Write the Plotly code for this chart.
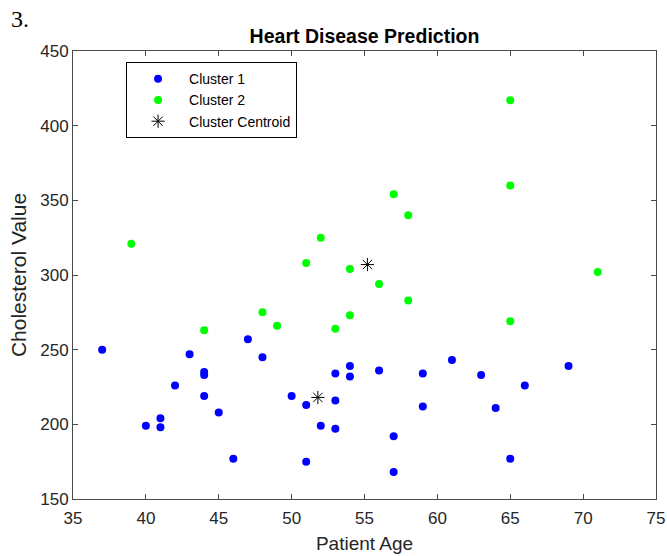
import plotly.graph_objects as go

# Cluster 1 (blue)
c1_age = [37, 43, 47, 48, 44, 44, 42, 44, 50, 51, 53, 53, 54, 54, 45, 41, 41,
          40, 52, 53, 46, 51, 56, 59, 59, 61, 63, 64, 66, 69, 57, 57, 65]
c1_chol = [250, 247, 257, 245, 235, 233, 226, 219, 219, 213, 234, 216, 239, 232, 208, 204, 198,
           199, 199, 197, 177, 175, 236, 234, 212, 243, 233, 211, 226, 239, 192, 168, 177]

# Cluster 2 (green)
c2_age = [39, 44, 48, 49, 51, 52, 54, 54, 53, 65, 65, 57, 58, 56, 58, 71, 65]
c2_chol = [321, 263, 275, 266, 308, 325, 304, 273, 264, 417, 360, 354, 340, 294, 283, 302, 269]

# Cluster centroids
cent_age = [51.8, 55.2]
cent_chol = [218, 307]

x_ticks = [35, 40, 45, 50, 55, 60, 65, 70, 75]
y_ticks = [150, 200, 250, 300, 350, 400, 450]

FONT = "Liberation Sans, Arial, sans-serif"

fig = go.Figure()
fig.add_trace(go.Scatter(x=c1_age, y=c1_chol, mode="markers", name="Cluster 1",
                         marker=dict(color="#0000FF", size=8)))
fig.add_trace(go.Scatter(x=c2_age, y=c2_chol, mode="markers", name="Cluster 2",
                         marker=dict(color="#00FF00", size=8)))
fig.add_trace(go.Scatter(x=cent_age, y=cent_chol, mode="markers", name="Cluster Centroid",
                         marker=dict(symbol="asterisk-open", size=11, color="black",
                                     line=dict(color="black", width=1))))

axis_common = dict(showline=True, linecolor="#4a4a4a", linewidth=1, mirror="ticks",
                   ticks="inside", ticklen=5, tickcolor="#4a4a4a", showgrid=False,
                   zeroline=False, automargin=False,
                   tickfont=dict(family=FONT, size=17, color="#262626"))

fig.update_layout(
    width=667, height=556,
    margin=dict(l=73, r=11, t=51, b=57),
    paper_bgcolor="white", plot_bgcolor="white",
    font=dict(family=FONT, color="#262626"),
    title=dict(text="<b>Heart Disease Prediction</b>", x=0.5, xref="paper",
               y=(556 - 36) / 556, yref="container", yanchor="middle",
               font=dict(family=FONT, size=19.5, color="black")),
    xaxis=dict(range=[35, 75], tickvals=x_ticks, ticklabelstandoff=4,
               title=dict(text="Patient Age", font=dict(family=FONT, size=19, color="#262626"), standoff=9),
               **axis_common),
    yaxis=dict(range=[150, 450], tickvals=y_ticks,
               title=dict(text="Cholesterol Value", font=dict(family=FONT, size=21, color="#262626"), standoff=7),
               **axis_common),
    legend=dict(x=0.091, y=0.975, xanchor="left", yanchor="top",
                bordercolor="black", borderwidth=1, bgcolor="white",
                font=dict(family=FONT, size=14, color="black"),
                tracegroupgap=0, itemwidth=52),
    showlegend=True,
)

fig.add_annotation(text="3.", xref="paper", yref="paper", x=-64 / 583, y=1 + (51 - 19) / 448,
                   xanchor="left", yanchor="middle", showarrow=False,
                   font=dict(family="Liberation Serif, Times New Roman, serif", size=24, color="black"))

fig.write_html("out.html", config={"displayModeBar": False},
               post_script="document.body.style.margin='0';document.body.style.padding='0';")
